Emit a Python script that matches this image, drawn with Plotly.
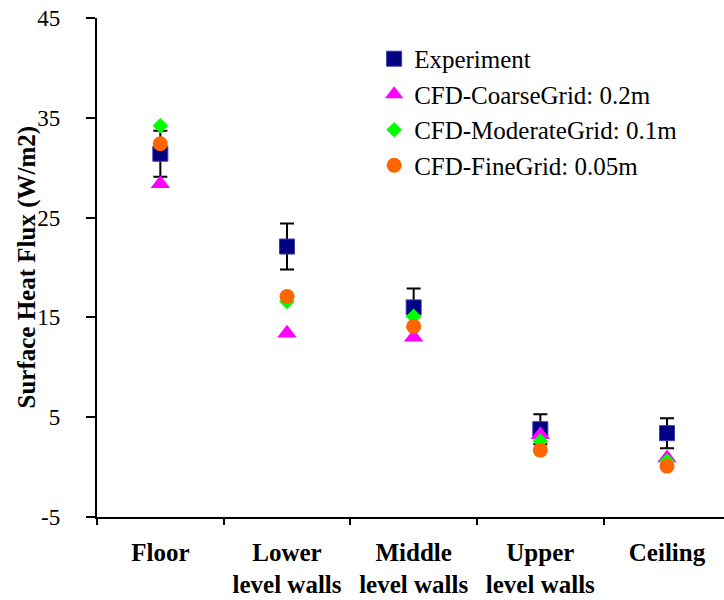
import plotly.graph_objects as go

categories = ["Floor", "Lower<br>level walls", "Middle<br>level walls", "Upper<br>level walls", "Ceiling"]
experiment = [31.4, 22.1, 16.0, 3.8, 3.4]
experiment_err = [2.3, 2.3, 1.9, 1.5, 1.5]
cfd_coarse = [28.4, 13.4, 13.0, 3.25, 0.9]
cfd_moderate = [34.2, 16.6, 15.1, 2.6, 0.6]
cfd_fine = [32.4, 17.1, 14.1, 1.7, 0.1]
y_tick_values = [-5, 5, 15, 25, 35, 45]
y_tick_labels = ["-5", "5", "15", "25", "35", "45"]

FONT = "Liberation Serif"

fig = go.Figure()
fig.add_trace(go.Scatter(
    x=categories, y=experiment, mode="markers", name="Experiment",
    marker=dict(symbol="square", size=15, color="#000080", line=dict(color="#3a3ab0", width=1)),
    error_y=dict(type="data", array=experiment_err, visible=True, color="black", thickness=2, width=7),
    legendgroup="a",
))
fig.add_trace(go.Scatter(
    x=categories, y=cfd_coarse, mode="markers", name="CFD-CoarseGrid: 0.2m",
    marker=dict(symbol="triangle-up", size=17, color="#FF00FF"),
    legendgroup="b",
))
fig.add_trace(go.Scatter(
    x=categories, y=cfd_moderate, mode="markers", name="CFD-ModerateGrid: 0.1m",
    marker=dict(symbol="diamond", size=12, color="#00FF00"),
    legendgroup="c",
))
fig.add_trace(go.Scatter(
    x=categories, y=cfd_fine, mode="markers", name="CFD-FineGrid: 0.05m",
    marker=dict(symbol="circle", size=15, color="#FF6600"),
    legendgroup="d",
))

fig.update_layout(
    width=724, height=600,
    margin=dict(l=97, r=0, t=18, b=83),
    paper_bgcolor="white", plot_bgcolor="white",
    font=dict(family=FONT, color="black"),
    showlegend=True,
    legend=dict(
        x=0.442, y=0.964, xanchor="left", yanchor="top",
        font=dict(family=FONT, size=25, color="black"),
        bgcolor="rgba(0,0,0,0)", tracegroupgap=0,
    ),
    xaxis=dict(
        type="category", range=[-0.5, 4.45],
        showline=True, linecolor="black", linewidth=1.5,
        ticks="outside", tickson="boundaries", ticklen=6, tickcolor="black", tickwidth=1.5,
        showgrid=False, zeroline=False,
        tickfont=dict(family=FONT, size=25, color="black", weight="bold"),
        ticklabelstandoff=12,
    ),
    yaxis=dict(
        range=[-5, 45], tickmode="array", tickvals=y_tick_values,
        ticktext=[t + "\u2002" for t in y_tick_labels],
        showline=True, linecolor="black", linewidth=1.5,
        ticks="outside", ticklen=9, tickcolor="black", tickwidth=1.5,
        showgrid=False, zeroline=False,
        tickfont=dict(family=FONT, size=23, color="black"),
        ticklabelstandoff=10,
    ),
    annotations=[dict(
        text="<b>Surface Heat Flux (W/m2)</b>", textangle=-90,
        xref="paper", yref="paper", x=0, y=0.5, xshift=-71,
        xanchor="center", yanchor="middle", showarrow=False,
        font=dict(family=FONT, size=25, color="black"),
    )],
)

fig.write_html("out.html")
